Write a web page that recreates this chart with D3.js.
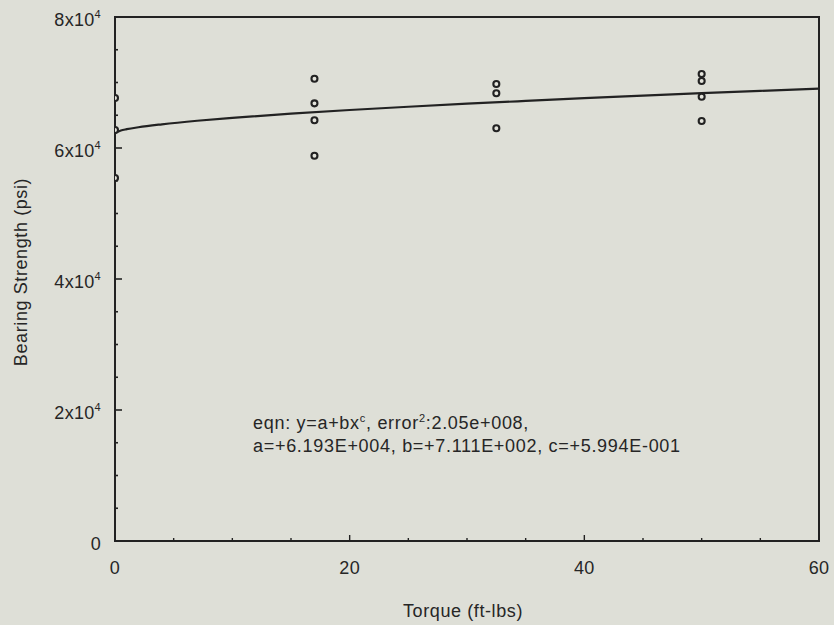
<!DOCTYPE html>
<html>
<head>
<meta charset="utf-8">
<script src="https://cdn.jsdelivr.net/npm/d3@7"></script>
<style>
  html, body { margin: 0; padding: 0; background: #dedfd7; }
  svg { display: block; }
  text { font-family: "Liberation Sans", Arial, sans-serif; fill: #262626; }
</style>
</head>
<body>
<svg id="chart" width="834" height="625"></svg>
<script>
// ---- data ----
const torque = [0, 0, 0, 17, 17, 17, 17, 32.5, 32.5, 32.5, 50, 50, 50, 50];
const strength = [67630, 62750, 55420, 70580, 66820, 64230, 58820, 69770, 68350, 63010, 71300, 70230, 67830, 64120];

const fitX = [0, 0.5, 1, 2, 4, 7, 10, 15, 20, 25, 30, 35, 40, 45, 50, 55, 60];
const fitY = [62290, 62670, 62870, 63170, 63620, 64160, 64600, 65240, 65800, 66300, 66760, 67190, 67600, 67990, 68370, 68720, 69050];

const xTicks = [0, 20, 40, 60];
const yTicks = [0, 20000, 40000, 60000, 80000];
const yTickLabels = ["0", "2x10", "4x10", "6x10", "8x10"];
const yTickExp = ["", "4", "4", "4", "4"];

const xTitle = "Torque (ft-lbs)";
const yTitle = "Bearing Strength (psi)";

// ---- drawing ----
const svg = d3.select("#chart");
const x = d3.scaleLinear().domain([0, 60]).range([115, 819]);
const y = d3.scaleLinear().domain([0, 80000]).range([541, 17]);
const ink = "#222";

svg.append("clipPath").attr("id", "plotclip")
  .append("rect")
  .attr("x", x(0)).attr("y", y(80000))
  .attr("width", x(60) - x(0)).attr("height", y(0) - y(80000));

// frame
svg.append("rect")
  .attr("x", x(0)).attr("y", y(80000))
  .attr("width", x(60) - x(0)).attr("height", y(0) - y(80000))
  .attr("fill", "none").attr("stroke", ink).attr("stroke-width", 2);

// y ticks (inward)
const yMinor = d3.range(0, 80001, 5000);
svg.append("g").selectAll("line").data(yMinor).join("line")
  .attr("x1", x(0)).attr("x2", d => x(0) + (d % 20000 === 0 ? 7 : 3))
  .attr("y1", d => y(d)).attr("y2", d => y(d))
  .attr("stroke", ink).attr("stroke-width", 1.6);

// x ticks (inward)
const xMinor = d3.range(0, 61, 5);
svg.append("g").selectAll("line").data(xMinor).join("line")
  .attr("x1", d => x(d)).attr("x2", d => x(d))
  .attr("y1", y(0)).attr("y2", d => y(0) - (d % 20 === 0 ? 6 : 3))
  .attr("stroke", ink).attr("stroke-width", 1.4);

// y tick labels
const yl = svg.append("g").selectAll("text").data(yTicks).join("text")
  .attr("x", 101).attr("y", (d) => y(d) + 9)
  .attr("text-anchor", "end")
  .attr("font-size", 18).attr("letter-spacing", 0.3);
yl.text((d, i) => yTickLabels[i]);
yl.append("tspan")
  .attr("font-size", 11).attr("dy", -8)
  .text((d, i) => yTickExp[i]);

// x tick labels
svg.append("g").selectAll("text").data(xTicks).join("text")
  .attr("x", d => x(d)).attr("y", 574)
  .attr("text-anchor", "middle")
  .attr("font-size", 18).attr("letter-spacing", 0.3)
  .text(d => d);

// axis titles
svg.append("text")
  .attr("x", 463).attr("y", 617)
  .attr("text-anchor", "middle").attr("font-size", 18).attr("letter-spacing", 0.6)
  .text(xTitle);
svg.append("text")
  .attr("transform", `translate(27, 272) rotate(-90)`)
  .attr("text-anchor", "middle").attr("font-size", 18).attr("letter-spacing", 0.6)
  .text(yTitle);

// fitted curve
const line = d3.line().x(d => x(d[0])).y(d => y(d[1])).curve(d3.curveMonotoneX);
svg.append("path")
  .datum(fitX.map((v, i) => [v, fitY[i]]))
  .attr("d", line)
  .attr("fill", "none").attr("stroke", ink).attr("stroke-width", 2.2)
  .attr("clip-path", "url(#plotclip)");

// data points
svg.append("g").attr("clip-path", "url(#plotclip)")
  .selectAll("circle").data(torque.map((t, i) => [t, strength[i]])).join("circle")
  .attr("cx", d => x(d[0])).attr("cy", d => y(d[1]))
  .attr("r", 3)
  .attr("fill", "#e4e4dc").attr("stroke", ink).attr("stroke-width", 2.1);

// annotation
const ann = svg.append("text").attr("x", 253).attr("y", 429)
  .attr("font-size", 18).attr("letter-spacing", 0.7);
ann.append("tspan").text("eqn: y=a+bx");
ann.append("tspan").attr("font-size", 11).attr("dy", -7).text("c");
ann.append("tspan").attr("dy", 7).text(", error");
ann.append("tspan").attr("font-size", 11).attr("dy", -7).text("2");
ann.append("tspan").attr("dy", 7).text(":2.05e+008,");
svg.append("text").attr("x", 253).attr("y", 452)
  .attr("font-size", 18).attr("letter-spacing", 0.7)
  .text("a=+6.193E+004, b=+7.111E+002, c=+5.994E-001");
</script>
</body>
</html>
